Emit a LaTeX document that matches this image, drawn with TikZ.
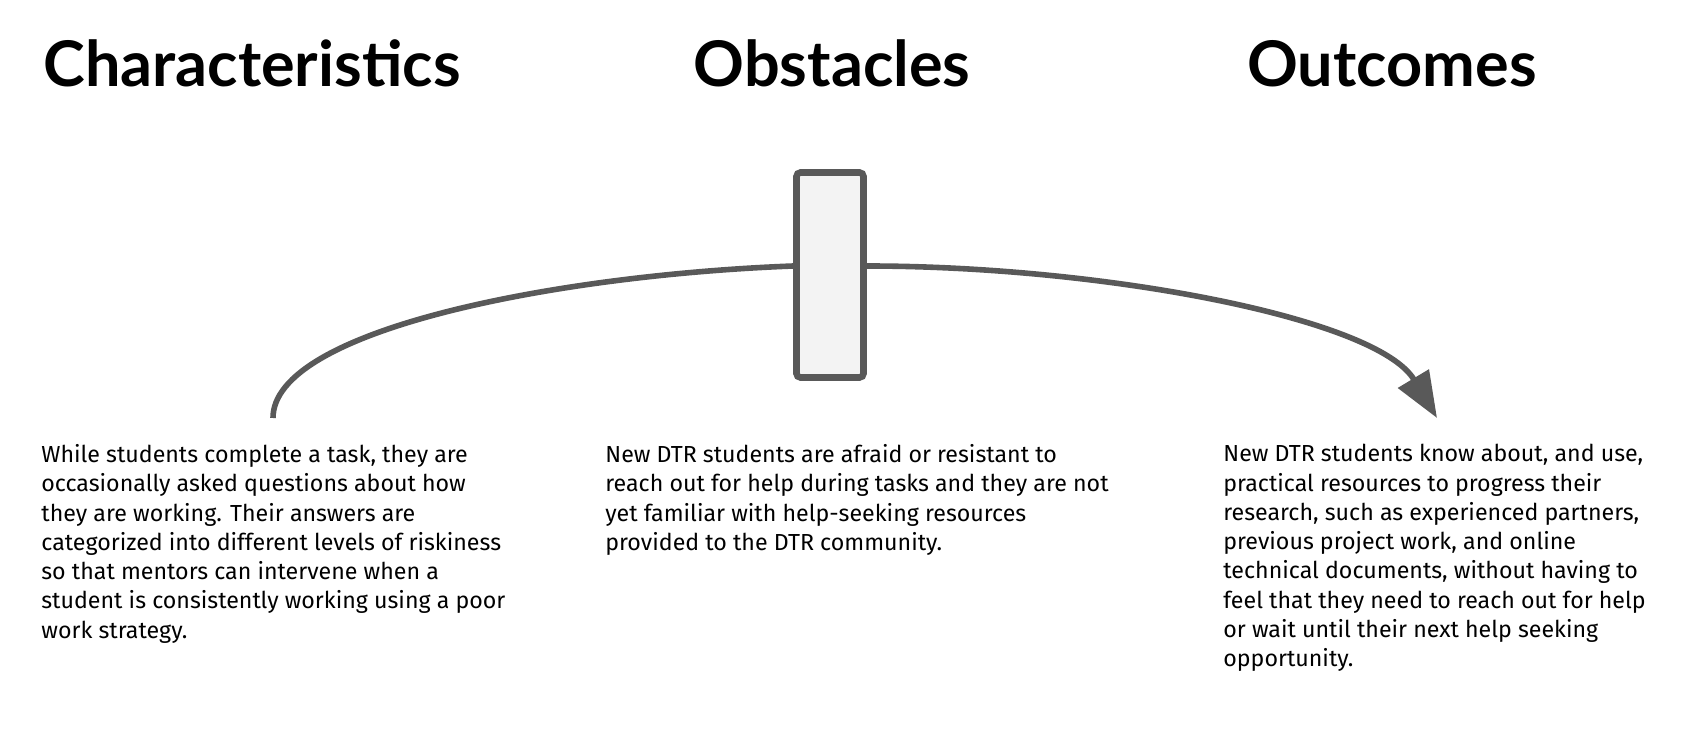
\documentclass[tikz,border=0pt]{standalone}
\usepackage{fontspec}
\setmainfont{Lato}
\newfontfamily\bodyfont{Fira Sans}
\usetikzlibrary{arrows.meta}

\definecolor{linegray}{HTML}{595959}
\definecolor{boxfill}{HTML}{F3F3F3}

\tikzset{
  heading/.style={font=\fontsize{31.5}{36}\selectfont\bfseries, inner sep=0, anchor=base},
  body/.style={font=\bodyfont\fontsize{11.6}{14.65}\selectfont, align=left, inner sep=0, anchor=north west},
  gatebox/.style={draw=linegray, fill=boxfill, line width=3.3pt, rounded corners=2pt,
    minimum width=33.5pt, minimum height=102.5pt, inner sep=0},
  flow/.style={draw=linegray, line width=2.8pt}
}

\begin{document}
\begin{tikzpicture}[x=0.5pt, y=-0.5pt]
\useasboundingbox (0,0) rectangle (1704,732);

% column headings
\node[heading] (charhead) at (252,87) {Characteristics};
\node[heading] (obshead) at (832,87) {Obstacles};
\node[heading] (outhead) at (1392,87) {Outcomes};

% column texts
\node[body] (chartext) at (41,444) {While students complete a task, they are\\
occasionally asked questions about how\\
they are working. Their answers are\\
categorized into different levels of riskiness\\
so that mentors can intervene when a\\
student is consistently working using a poor\\
work strategy.};
\node[body] (obstext) at (605,444) {New DTR students are afraid or resistant to\\
reach out for help during tasks and they are not\\
yet familiar with help-seeking resources\\
provided to the DTR community.};
\node[body] (outtext) at (1223,444) {New DTR students know about, and use,\\
practical resources to progress their\\
research, such as experienced partners,\\
previous project work, and online\\
technical documents, without having to\\
feel that they need to reach out for help\\
or wait until their next help seeking\\
opportunity.};

% the obstacle and the path round it
\node[gatebox] (gate) at (830,275) {};
\coordinate (start) at (273,418);
\coordinate (tip) at (1437,418);

\draw[flow] (start) .. controls +(0,-88) and +(-237,9) .. ([yshift=4.5pt]gate.west);
\draw[flow, -{Triangle[length=23pt, width=17.5pt]}] ([yshift=4.5pt]gate.east)
  .. controls +(236,0) and +(-60,-100) .. (tip);
%\draw[gray] (0,0) rectangle (1704,732);
\end{tikzpicture}
\end{document}
